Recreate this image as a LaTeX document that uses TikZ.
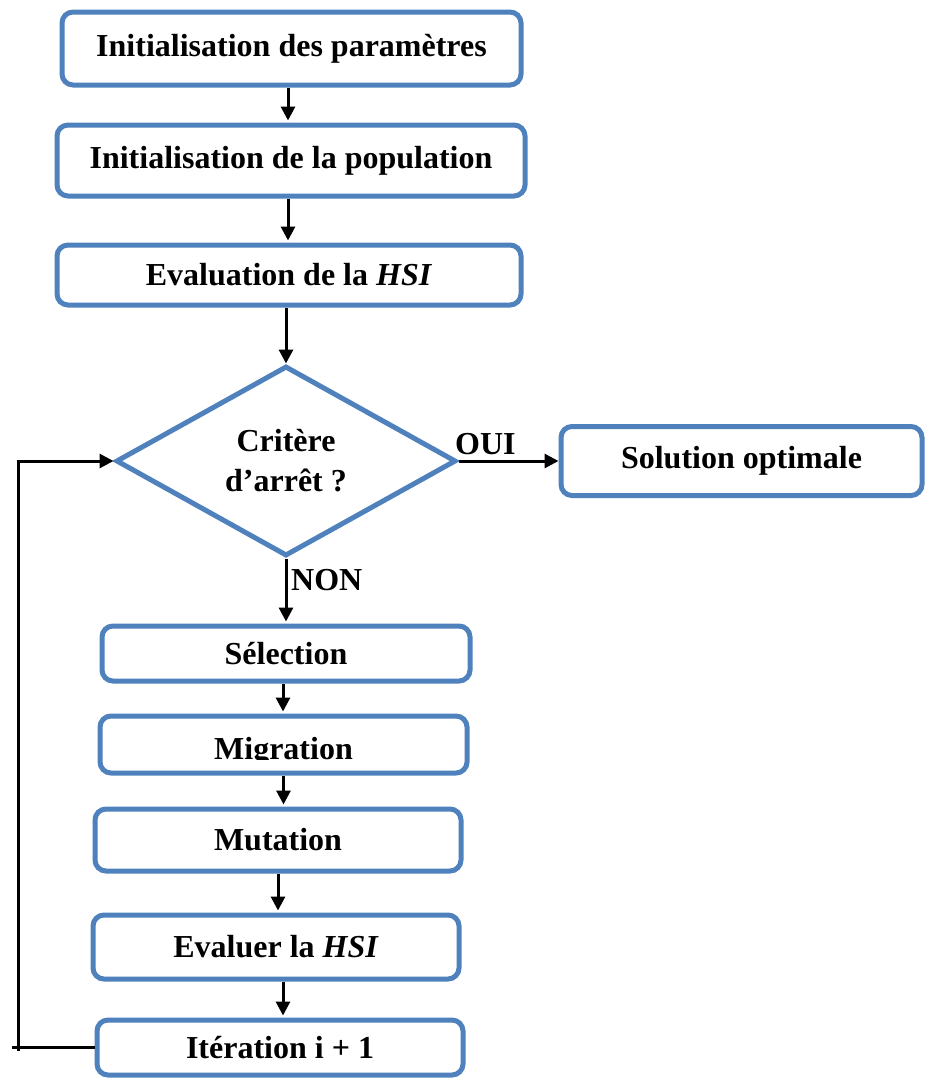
\documentclass[tikz,border=0pt]{standalone}
\usepackage{fontspec}
\setmainfont{Liberation Serif}
\usetikzlibrary{shapes.geometric,arrows.meta,calc}
\definecolor{boxblue}{RGB}{79,129,189}
\begin{document}
\begin{tikzpicture}[x=1pt,y=-1pt,
  stepbox/.style={draw=boxblue,line width=5pt,rounded corners=11pt,fill=white,
    inner sep=0pt,font=\fontsize{32}{38}\selectfont\bfseries},
  decision/.style={draw=boxblue,line width=5pt,diamond,inner sep=0pt,
    font=\fontsize{32}{40}\selectfont\bfseries,align=center},
  flow/.style={draw=black,line width=3pt,-{Triangle[length=14pt,width=14pt]}},
  plain/.style={draw=black,line width=3pt},
  lbl/.style={font=\fontsize{32}{38}\selectfont\bfseries,inner sep=0pt}]
\useasboundingbox (0,0) rectangle (931,1079);

% main column of steps
\node[stepbox,minimum width=459pt,minimum height=73pt] (init) at (291.5,48.5) {Initialisation des paramètres};
\node[stepbox,minimum width=468pt,minimum height=71pt] (pop) at (291,160.5) {Initialisation de la population};
\node[stepbox,minimum width=464pt,minimum height=60pt] (eval) at (289,275) {Evaluation de la \textit{HSI}};
\node[decision,minimum width=340pt,minimum height=190pt] (crit) at (286,461) {Critère\\d’arrêt ?};
\node[stepbox,minimum width=361pt,minimum height=69pt] (sol) at (741.5,461) {Solution optimale};

% loop body
\node[stepbox,minimum width=368pt,minimum height=55pt] (sel) at (286,653.5) {\raisebox{-5pt}{Sélection}};
\node[stepbox,minimum width=367pt,minimum height=57pt] (mig) at (283.5,744.5) {};
\begin{scope}
  \clip (100,716) rectangle (467,759);
  \node[lbl,anchor=base] (migtext) at (283.5,759) {Migration};
\end{scope}
\node[stepbox,minimum width=366pt,minimum height=62pt] (mut) at (278,840) {Mutation};
\node[stepbox,minimum width=366pt,minimum height=64pt] (evh) at (276,947) {Evaluer la \textit{HSI}};
\node[stepbox,minimum width=366pt,minimum height=55pt] (iter) at (280,1047.5) {\raisebox{-5pt}{Itération i + 1}};

% vertical connectors
\path[flow] ($(init.south)+(-3.5,0)$) -- ($(init.south |- pop.north)+(-3.5,-2)$);
\path[flow] ($(pop.south)+(-3,0)$) -- ($(pop.south |- eval.north)+(-3,-2)$);
\path[flow] ($(eval.south)+(-3,0)$) -- ($(eval.south |- crit.north)+(-3,0)$);
\path[flow] (crit.south) -- ($(crit.south |- sel.north)+(0,-2)$);
\path[flow] ($(sel.south)+(-3,0)$) -- ($(sel.south |- mig.north)+(-3,-2)$);
\path[flow] (mig.south) -- ($(mig.south |- mut.north)+(0,-2)$);
\path[flow] (mut.south) -- ($(mut.south |- evh.north)+(0,-2)$);
\path[flow] ($(evh.south)+(7,0)$) -- ($(evh.south |- iter.north)+(7,-2)$);

% decision outputs
\path[flow] (crit.east) -- (sol.west);
\node[lbl,anchor=base west] (oui) at (455,454) {OUI};
\node[lbl,anchor=base west] (non) at (291,590) {NON};

% feedback loop back to the decision
\coordinate (loopend) at (12,1047.5);
\coordinate (loopbot) at (18,1051);
\coordinate (looptop) at (loopbot |- crit.west);
\path[plain] (iter.west) -- (loopend);
\path[plain] (loopbot) -- (looptop);
\path[flow] ($(looptop)+(-1.5,0)$) -- (crit.west);
\end{tikzpicture}
\end{document}
